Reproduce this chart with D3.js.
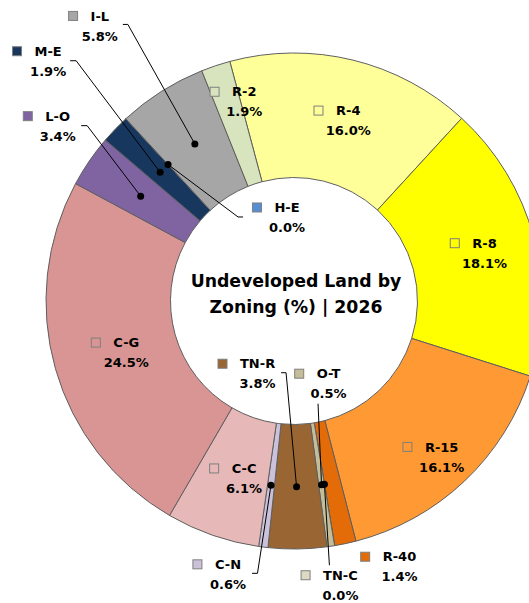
<!DOCTYPE html>
<html>
<head>
<meta charset="utf-8">
<script src="https://cdn.jsdelivr.net/npm/d3@7"></script>
<style>
  html, body { margin: 0; padding: 0; background: #fff; }
  svg { display: block; }
  .lbl { font-family: "DejaVu Sans", sans-serif; font-weight: bold; font-size: 13px; fill: #000; }
  .title { font-family: "DejaVu Sans", sans-serif; font-weight: bold; font-size: 17.3px; fill: #000; }
</style>
</head>
<body>
<div class="visual"><svg></svg></div>
<script>
"use strict";

// data, clockwise from the slice after 12 o'clock
var zones = ["R-4", "R-8", "R-15", "R-40", "TN-C", "O-T", "TN-R", "C-N", "C-C", "C-G", "L-O", "M-E", "H-E", "I-L", "R-2"];
var shares = [16.0, 18.1, 16.1, 1.4, 0.0, 0.5, 3.8, 0.6, 6.1, 24.5, 3.4, 1.9, 0.0, 5.8, 1.9];
var titleLines = ["Undeveloped Land by", "Zoning (%) | 2026"];

var colors = ["#FFFF99", "#FFFF00", "#FF9933", "#E36C09", "#DDD9C3", "#C4BD97", "#996633", "#CCC1DA",
              "#E6B9B8", "#D99594", "#8064A2", "#17375E", "#558ED5", "#A6A6A6", "#D7E4BD"];

var width = 529,
    height = 603,
    cx = 294,
    cy = 301,
    outerR = 248,
    innerR = 123.5,
    startDeg = -15;

// label placement: offset of the name line centre from the slice centroid,
// plus optional leader points (relative to the same name line centre)
var labelLayout = {
    "R-4":  { dx: 10, dy: -10 },
    "R-8":  { dx: 11, dy: -10 },
    "R-15": { dx: 20, dy: 11 },
    "R-40": { dx: 67, dy: 74 },
    "TN-C": { dx: 16, dy: 91, leader: [[-11, -10]] },
    "O-T":  { dx: 7, dy: -111, leader: [[-10.5, 30]] },
    "TN-R": { dx: -39, dy: -123, leader: [[23.5, 9], [28.5, 9]] },
    "C-N":  { dx: -43, dy: 79, leader: [[24, 9], [29.5, 9]] },
    "C-C":  { dx: 11, dy: -8 },
    "C-G":  { dx: 11, dy: -9 },
    "L-O":  { dx: -83, dy: -80, leader: [[23.5, 9.5], [29.5, 9.5]] },
    "M-E":  { dx: -112, dy: -121, leader: [[22, 9.5], [28, 9.5]] },
    "H-E":  { dx: 119, dy: 43, leader: [[-44, 9.5], [-49, 9.5]] },
    "I-L":  { dx: -95, dy: -128, leader: [[23, 8.5], [28, 8.5]] },
    "R-2":  { dx: 9, dy: -33 }
};

var rows = zones.map(function (z, i) { return { zone: z, value: shares[i], color: colors[i] }; });

var pie = d3.pie()
    .sort(null)
    .value(function (d) { return d.value; })
    .startAngle(startDeg * Math.PI / 180)
    .endAngle(startDeg * Math.PI / 180 + 2 * Math.PI);

var arc = d3.arc()
    .innerRadius(innerR)
    .outerRadius(outerR);

var arcs = pie(rows);

var svg = d3.select("svg")
    .attr("width", width)
    .attr("height", height);

var g = svg.append("g")
    .attr("transform", "translate(" + cx + "," + cy + ")");

g.selectAll(".slice")
    .data(arcs)
    .enter()
    .append("path")
    .attr("class", "slice")
    .attr("d", arc)
    .attr("fill", function (d) { return d.data.color; })
    .attr("stroke", "#5f5f5f")
    .attr("stroke-width", 1)
    .attr("stroke-linejoin", "round");

// title in the hole
g.append("text")
    .attr("class", "title")
    .attr("text-anchor", "middle")
    .selectAll("tspan")
    .data(titleLines)
    .enter()
    .append("tspan")
    .attr("x", 2)
    .attr("y", function (d, i) { return -20 + i * 26; })
    .attr("dy", "0.36em")
    .text(function (d) { return d; });

var fmt = d3.format(".1f");
var markerSize = 9,
    markerGap = 13;

var lines = g.append("g");
var labels = g.append("g");

arcs.forEach(function (d) {
    var lay = labelLayout[d.data.zone];
    var c = arc.centroid(d);
    var tx = c[0] + lay.dx,
        ty = c[1] + lay.dy;

    if (lay.leader) {
        var pts = lay.leader.map(function (p) { return [tx + p[0], ty + p[1]]; });
        pts.push(c);
        lines.append("path")
            .attr("d", d3.line()(pts))
            .attr("fill", "none")
            .attr("stroke", "#000")
            .attr("stroke-width", 1);
        lines.append("circle")
            .attr("cx", c[0])
            .attr("cy", c[1])
            .attr("r", 3.5)
            .attr("fill", "#000");
    }

    var lab = labels.append("g");
    var name = lab.append("text")
        .attr("class", "lbl")
        .attr("text-anchor", "middle")
        .attr("x", tx)
        .attr("y", ty)
        .attr("dy", "0.36em")
        .text(d.data.zone);
    lab.append("text")
        .attr("class", "lbl")
        .attr("text-anchor", "middle")
        .attr("x", tx)
        .attr("y", ty + 20)
        .attr("dy", "0.36em")
        .text(fmt(d.data.value) + "%");

    var nw = name.node().getComputedTextLength();
    lab.append("rect")
        .attr("x", tx - nw / 2 - markerGap - markerSize)
        .attr("y", ty - markerSize / 2)
        .attr("width", markerSize)
        .attr("height", markerSize)
        .attr("fill", d.data.color)
        .attr("stroke", "#7f7f7f")
        .attr("stroke-width", 1);
});
</script>
</body>
</html>
